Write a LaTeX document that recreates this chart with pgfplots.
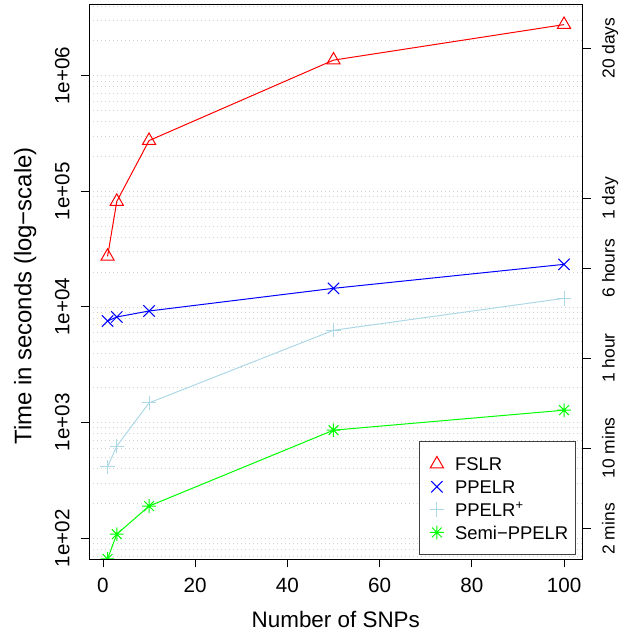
\documentclass[border=0pt]{standalone}
\usepackage{fontspec}
\setmainfont{Liberation Sans}
\usepackage{pgfplots}
\pgfplotsset{compat=1.18}

\definecolor{rred}{RGB}{255,0,0}
\definecolor{rblue}{RGB}{0,0,255}
\definecolor{rlightblue}{RGB}{173,216,230}
\definecolor{rgreen}{RGB}{0,255,0}

% R's pch 8: plus and cross on top of each other
\pgfdeclareplotmark{rstar}{%
  \pgfpathmoveto{\pgfqpoint{-\pgfplotmarksize}{0pt}}%
  \pgfpathlineto{\pgfqpoint{\pgfplotmarksize}{0pt}}%
  \pgfpathmoveto{\pgfqpoint{0pt}{-\pgfplotmarksize}}%
  \pgfpathlineto{\pgfqpoint{0pt}{\pgfplotmarksize}}%
  \pgfpathmoveto{\pgfqpoint{-.70710678\pgfplotmarksize}{-.70710678\pgfplotmarksize}}%
  \pgfpathlineto{\pgfqpoint{.70710678\pgfplotmarksize}{.70710678\pgfplotmarksize}}%
  \pgfpathmoveto{\pgfqpoint{-.70710678\pgfplotmarksize}{.70710678\pgfplotmarksize}}%
  \pgfpathlineto{\pgfqpoint{.70710678\pgfplotmarksize}{-.70710678\pgfplotmarksize}}%
  \pgfusepathqstroke}

\newcommand{\tickfont}{\fontsize{20.7}{24}\selectfont}
\newcommand{\labfont}{\fontsize{22.5}{27}\selectfont}

\begin{document}
\begin{tikzpicture}
\begin{axis}[
    name=main,
    scale only axis, width=493bp, height=555bp,
    ymode=log,
    xmin=-2.96, xmax=103.96, ymin=65.9, ymax=4.16e6,
    xtick={0,20,40,60,80,100}, xticklabels={0,20,40,60,80,100},
    ytick={1e2,1e3,1e4,1e5,1e6},
    yticklabels={1e+02,1e+03,1e+04,1e+05,1e+06},
    minor ytick={70,80,90,200,300,400,500,600,700,800,900,
                 2000,3000,4000,5000,6000,7000,8000,9000,
                 20000,30000,40000,50000,60000,70000,80000,90000,
                 200000,300000,400000,500000,600000,700000,800000,900000,
                 2000000,3000000,4000000},
    tick align=outside, tick pos=left,
    major tick length=8.5bp, minor tick length=0pt,
    tick style={black, line width=0.8bp},
    axis line style={black, line width=0.8bp},
    ymajorgrids, yminorgrids,
    major grid style={black!18, line width=0.6bp, dash pattern=on 0.6bp off 3.4bp},
    minor grid style={black!18, line width=0.6bp, dash pattern=on 0.6bp off 3.4bp},
    xticklabel style={font=\tickfont, anchor=north, inner sep=0pt, yshift=-10bp},
    yticklabel style={font=\tickfont, xshift=-11bp, rotate=90, anchor=south, inner sep=0pt},
    xlabel={Number of SNPs},
    ylabel={Time in seconds (log−scale)},
    xlabel style={font=\labfont, at={(axis description cs:0.5,-0.1231)}, anchor=base},
    ylabel style={font=\fontsize{24}{28}\selectfont, at={(axis description cs:-0.1176,0.4739)}, anchor=base},
    clip marker paths=true,
    every axis plot/.append style={line width=1bp, mark options={solid, line width=1bp}},
    legend cell align=left,
    legend image code/.code={%
        \path (-9bp,0bp) (17.7bp,0bp);
        \draw[#1] plot[only marks] coordinates {(0bp,0bp)};},
    legend style={at={(axis description cs:0.9878,0.0072)}, anchor=south east,
        draw=black!75, line width=0.8bp, fill=white,
        font=\fontsize{18.5}{22}\selectfont,
        inner xsep=7.6bp, inner ysep=13.7bp, row sep=5.8bp, column sep=0pt,
        nodes={inner sep=0pt, text height=15.1bp, text depth=1.9bp}},
]
\addplot[rred, mark=triangle, mark size=7.6bp, forget plot]
    coordinates {(1,27300) (3,81500) (10,274000) (50,1360000) (100,2760000)};
\addplot[rblue, mark=x, mark size=8bp, forget plot]
    coordinates {(1,7540) (3,8170) (10,9200) (50,14450) (100,23300)};
\addplot[rlightblue, mark=+, mark size=7.2bp, forget plot]
    coordinates {(1,413) (3,624) (10,1476) (50,6270) (100,11840)};
\addplot[rgreen, mark=rstar, mark size=6.9bp, forget plot]
    coordinates {(1,66) (3,108) (10,189) (50,857) (100,1276)};

\addlegendimage{rred, mark=triangle, mark size=7.6bp, line width=1bp}
\addlegendentry{FSLR}
\addlegendimage{rblue, mark=x, mark size=8bp, line width=1bp}
\addlegendentry{PPELR}
\addlegendimage{rlightblue, mark=+, mark size=7.2bp, line width=1bp}
\addlegendentry{PPELR\textsuperscript{+}}
\addlegendimage{rgreen, mark=rstar, mark size=6.9bp, line width=1bp}
\addlegendentry{Semi−PPELR}
\end{axis}

\begin{axis}[
    scale only axis, width=493bp, height=555bp,
    ymode=log,
    xmin=-2.96, xmax=103.96, ymin=65.9, ymax=4.16e6,
    axis x line=none, axis y line*=right,
    ytick={120,600,3600,21600,86400,1728000},
    yticklabels={2 mins,10 mins,1 hour,6 hours,1 day,20 days},
    minor ytick={}, minor tick length=0pt,
    tick align=outside, major tick length=8.5bp,
    tick style={black, line width=0.8bp},
    axis line style={black, line width=0.8bp},
    yticklabel style={font=\fontsize{17.5}{21}\selectfont, xshift=11bp, rotate=90, anchor=north, inner sep=0pt},
]
\end{axis}

\pgfresetboundingbox
\path[use as bounding box] ([shift={(-89.3bp,-73bp)}]main.south west) rectangle ++(626bp,632bp);
\end{tikzpicture}
\end{document}
